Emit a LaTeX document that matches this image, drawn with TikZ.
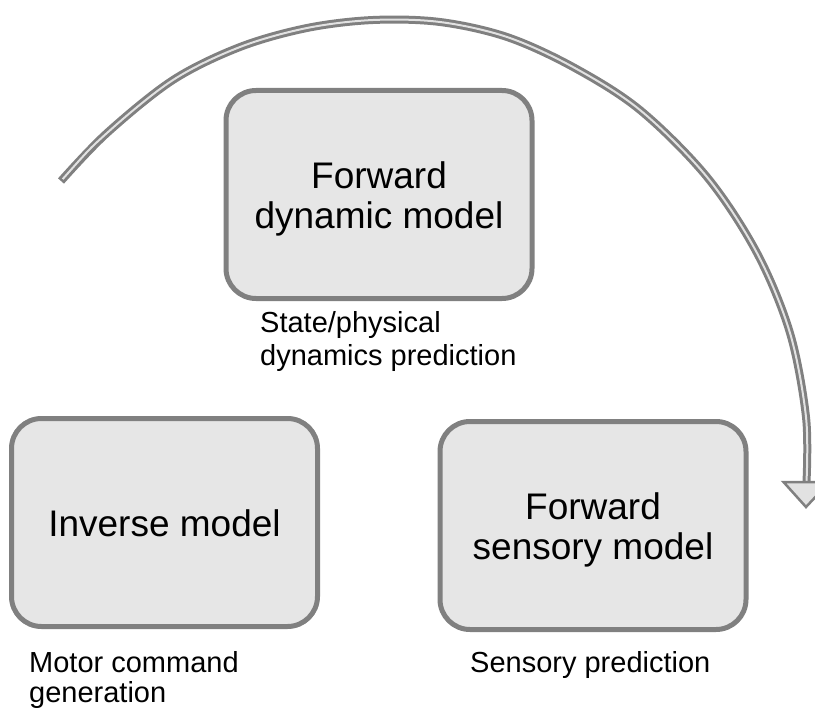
\documentclass[tikz,border=0pt]{standalone}
\usepackage{fontspec}
\setmainfont{Liberation Sans}
\definecolor{edgegray}{HTML}{808080}
\definecolor{boxfill}{HTML}{E6E6E6}
\definecolor{arclight}{HTML}{E2E2E2}
\tikzset{
  modelbox/.style={draw=edgegray, fill=boxfill, line width=5pt, rounded corners=30pt,
    minimum width=306pt, minimum height=208pt, inner sep=0pt},
  boxtext/.style={font=\fontsize{37}{40}\selectfont, align=center, inner sep=0pt, anchor=base},
  captext/.style={font=\fontsize{29}{33}\selectfont, align=left, inner sep=0pt, anchor=base west},
  arcouter/.style={draw=edgegray, line width=8pt},
  arcinner/.style={draw=arclight, line width=2pt},
  headtri/.style={draw=edgegray, fill=arclight, line width=2.5pt, line join=miter},
}
\begin{document}
\begin{tikzpicture}[x=1pt, y=-1pt]
  \useasboundingbox (0,0) rectangle (815,709);
  \clip (0,0) rectangle (815,709);

  % the three model boxes
  \node[modelbox] (fdm) at (379,194.5) {};
  \node[modelbox] (inv) at (164.5,522.5) {};
  \node[modelbox] (fsm) at (593,525.5) {};

  % box titles (base anchor sits on the last line)
  \node[boxtext] (fdmtext) at (379,228) {Forward\\dynamic model};
  \node[boxtext] (invtext) at (164.5,536) {Inverse model};
  \node[boxtext] (fsmtext) at (593,559) {Forward\\sensory model};

  % captions under the boxes
  \node[captext] (fdmcap) at (260,365) {State/physical\\dynamics prediction};
  \node[captext, font=\fontsize{29}{30}\selectfont] (invcap) at (29,702) {Motor command\\generation};
  \node[captext] (fsmcap) at (470,672) {Sensory prediction};

  % the sweeping double-lined arrow
  \coordinate (arcstart) at (61,181);
  \coordinate (arcend) at (806.5,482);
  \coordinate (arctip) at (806,507);
  \draw[arcouter] plot[smooth, tension=0.55] coordinates {
    (arcstart) (107,133) (173,80) (240,47) (307,28) (373,20) (440,22)
    (507,37) (573,67) (640,110) (707,177) (757,253) (790,333) (806,417) (arcend)};
  \draw[arcinner, shorten <=2.5pt] plot[smooth, tension=0.55] coordinates {
    (arcstart) (107,133) (173,80) (240,47) (307,28) (373,20) (440,22)
    (507,37) (573,67) (640,110) (707,177) (757,253) (790,333) (806,417) (arcend)};
  \draw[headtri] ([xshift=-23pt]arcend) -- ([xshift=23pt]arcend) -- (arctip) -- cycle;
\end{tikzpicture}
\end{document}
